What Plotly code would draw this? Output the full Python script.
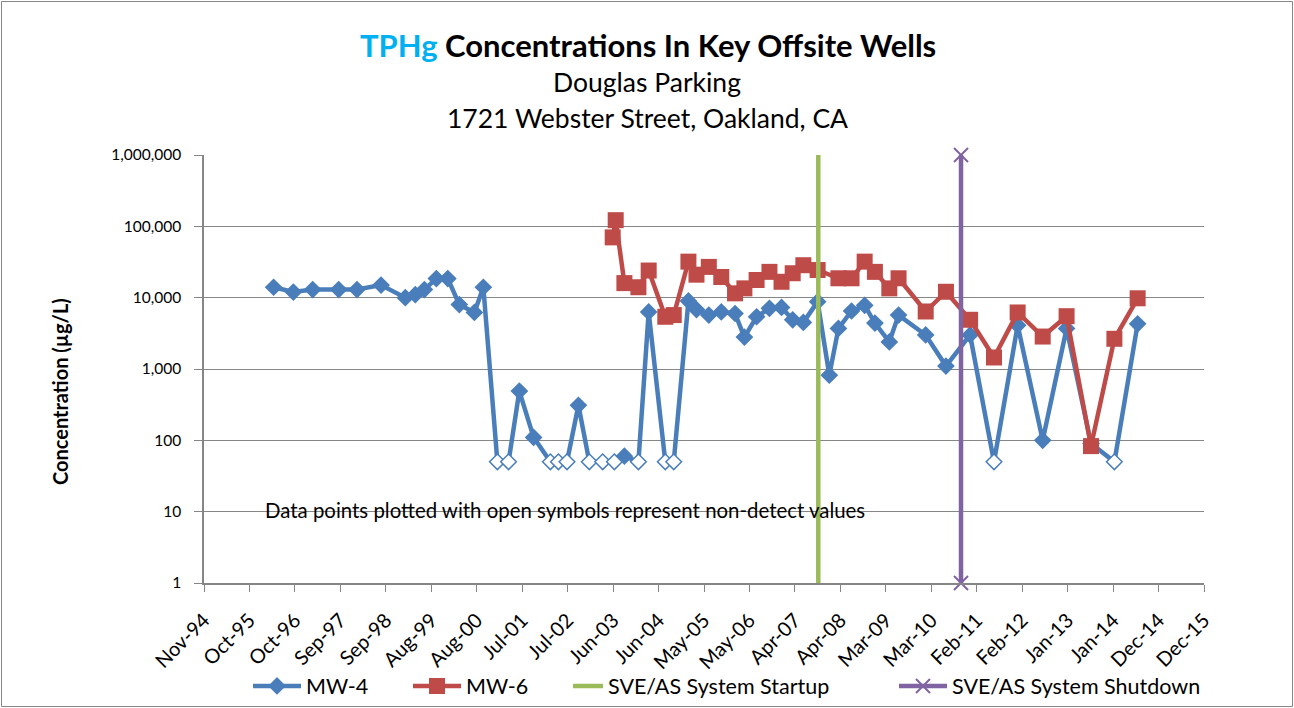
import plotly.graph_objects as go

# ---------------- data ----------------
mw4_dates = ["1996-04-25", "1996-09-24", "1997-02-20", "1997-09-08", "1998-01-27", "1998-07-31",
             "1999-02-03", "1999-04-21", "1999-06-30", "1999-09-30", "1999-12-27", "2000-03-25",
             "2000-07-19", "2000-09-26", "2001-01-12", "2001-04-08", "2001-06-30", "2001-10-18",
             "2002-02-24", "2002-04-27", "2002-07-02", "2002-09-28", "2002-12-21", "2003-04-03",
             "2003-07-02", "2003-09-17", "2004-01-03", "2004-03-22", "2004-07-28", "2004-10-01",
             "2005-01-22", "2005-03-25", "2005-06-28", "2005-10-02", "2006-01-16", "2006-03-29",
             "2006-07-01", "2006-10-08", "2007-01-09", "2007-04-05", "2007-06-26", "2007-10-14",
             "2008-01-12", "2008-03-22", "2008-07-01", "2008-10-10", "2008-12-28", "2009-04-18",
             "2009-06-28", "2010-01-23", "2010-06-28", "2010-12-31", "2011-07-03", "2012-01-01",
             "2012-07-12", "2013-01-12", "2013-07-19", "2014-01-15", "2014-07-13"]
mw4_values = [14000, 12000, 13000, 13000, 13000, 15000,
              10000, 11000, 13000, 18500, 18500, 8000,
              6200, 14000, 50, 50, 490, 110,
              50, 50, 50, 310, 50, 50,
              50, 60, 50, 6300, 50, 50,
              9000, 6800, 5700, 6300, 6000, 2800,
              5400, 7100, 7300, 4900, 4500, 8800,
              820, 3700, 6500, 7800, 4400, 2400,
              5700, 3000, 1100, 3000, 50, 4100,
              100, 3700, 90, 50, 4300]
mw4_nondetect = [0, 0, 0, 0, 0, 0,
                 0, 0, 0, 0, 0, 0,
                 0, 0, 1, 1, 0, 0,
                 1, 1, 1, 0, 1, 1,
                 1, 0, 1, 0, 1, 1,
                 0, 0, 0, 0, 0, 0,
                 0, 0, 0, 0, 0, 0,
                 0, 0, 0, 0, 0, 0,
                 0, 0, 0, 0, 1, 0,
                 0, 0, 0, 1, 0]

mw6_dates = ["2003-06-19", "2003-07-12", "2003-09-17", "2004-01-03", "2004-03-22", "2004-07-28",
             "2004-10-01", "2005-01-22", "2005-03-25", "2005-06-28", "2005-10-02", "2006-01-16",
             "2006-03-29", "2006-07-01", "2006-10-08", "2007-01-09", "2007-04-05", "2007-06-26",
             "2007-10-14", "2008-03-22", "2008-07-01", "2008-10-10", "2008-12-28", "2009-04-18",
             "2009-06-28", "2010-01-23", "2010-06-28", "2010-12-31", "2011-07-03", "2012-01-01",
             "2012-07-12", "2013-01-12", "2013-07-19", "2014-01-15", "2014-07-13"]
mw6_values = [70000, 122000, 16000, 14000, 24000, 5400,
              5700, 32000, 21000, 27000, 19500, 11500,
              13500, 17700, 23000, 16700, 22000, 28500,
              24400, 18700, 18700, 32000, 23000, 13500,
              18700, 6400, 12100, 4900, 1450, 6200,
              2850, 5500, 83, 2650, 9800]

startup_dates = ["2007-10-19", "2007-10-19"]
shutdown_dates = ["2010-10-22", "2010-10-22"]
event_values = [1, 1000000]

x_range = ["1994-11-06", "2015-12-06"]
x_tick_step_days = 350

y_tickvals = [1, 10, 100, 1000, 10000, 100000, 1000000]
y_ticktext = ["1", "10", "100", "1,000", "10,000", "100,000", "1,000,000"]

# ---------------- styles ----------------
BLUE = "#4A7EBB"
RED = "#BE4B48"
GREEN = "#9BBB59"
PURPLE = "#8064A2"
GRID = "#868686"
FONT = "Lato"

W, H = 1294, 708
L, R, T = 204, 90, 155
PLOT_BOTTOM = 583
B = H - PLOT_BOTTOM
PW, PH = W - L - R, H - T - B


def px_x(px):
    return (px - L) / PW


def px_y(py):
    return (PLOT_BOTTOM - py) / PH


fig = go.Figure()

fig.add_trace(go.Scatter(
    x=mw4_dates, y=mw4_values, name="MW-4", mode="lines+markers",
    line=dict(color=BLUE, width=4.5),
    marker=dict(symbol="diamond", size=12,
                color=["white" if nd else BLUE for nd in mw4_nondetect],
                line=dict(color=BLUE, width=1.5)),
    legend="legend"))

fig.add_trace(go.Scatter(
    x=mw6_dates, y=mw6_values, name="MW-6", mode="lines+markers",
    line=dict(color=RED, width=4.5),
    marker=dict(symbol="square", size=16, color=RED),
    legend="legend2"))

fig.add_trace(go.Scatter(
    x=startup_dates, y=event_values, name="SVE/AS System Startup", mode="lines",
    line=dict(color=GREEN, width=4.5),
    legend="legend3"))

fig.add_trace(go.Scatter(
    x=shutdown_dates, y=event_values, name="SVE/AS System Shutdown", mode="lines+markers",
    line=dict(color=PURPLE, width=4.5), cliponaxis=False,
    marker=dict(symbol="x-thin", size=14, line=dict(color=PURPLE, width=2)),
    legend="legend4"))

legend_common = dict(orientation="h", yanchor="middle", xanchor="left",
                     yref="container", y=1 - 686 / H,
                     font=dict(family=FONT, size=21.5, color="black"),
                     bgcolor="rgba(0,0,0,0)", itemwidth=48)

annotations = [
    dict(text="<span style='color:#00B0F0'>TPHg</span> Concentrations In Key Offsite Wells",
         x=px_x(648), y=px_y(45), xref="paper", yref="paper", showarrow=False,
         font=dict(family=FONT, size=31, color="black", weight="bold"),
         xanchor="center", yanchor="middle"),
    dict(text="Douglas Parking", x=px_x(647), y=px_y(82), xref="paper", yref="paper",
         showarrow=False, font=dict(family=FONT, size=26.5, color="black"),
         xanchor="center", yanchor="middle"),
    dict(text="1721 Webster Street, Oakland, CA", x=px_x(647), y=px_y(118), xref="paper",
         yref="paper", showarrow=False, font=dict(family=FONT, size=26.5, color="black"),
         xanchor="center", yanchor="middle"),
    dict(text="Concentration (µg/L)", x=px_x(60), y=px_y(392), xref="paper", yref="paper",
         showarrow=False, textangle=-90,
         font=dict(family=FONT, size=20, color="black", weight="bold"),
         xanchor="center", yanchor="middle"),
    dict(text="Data points plotted with open symbols represent non-detect values",
         x=px_x(263), y=px_y(510), xref="paper", yref="paper", showarrow=False,
         font=dict(family=FONT, size=20.4, color="black"),
         xanchor="left", yanchor="middle"),
]

fig.update_layout(
    width=W, height=H, autosize=False,
    margin=dict(l=L, r=R, t=T, b=B, pad=0),
    paper_bgcolor="white", plot_bgcolor="white",
    font=dict(family=FONT, color="black"),
    showlegend=True,
    legend=dict(legend_common, x=px_x(248)),
    legend2=dict(legend_common, x=px_x(408)),
    legend3=dict(legend_common, x=px_x(568), itemwidth=30),
    legend4=dict(legend_common, x=px_x(894)),
    annotations=annotations,
    shapes=[dict(type="rect", xref="paper", yref="paper",
                 x0=px_x(1.5), x1=px_x(W - 1.5), y0=px_y(H - 1.5), y1=px_y(1.5),
                 line=dict(color=GRID, width=1), layer="below")],
    xaxis=dict(
        type="date", range=x_range,
        tick0=x_range[0], dtick=x_tick_step_days * 86400000, tickformat="%b-%y",
        tickangle=-45, ticks="outside", ticklen=7, tickcolor=GRID, tickwidth=1.3,
        showline=True, linecolor=GRID, linewidth=1.5, showgrid=False, zeroline=False,
        automargin=False, ticklabelstandoff=9,
        tickfont=dict(family=FONT, size=20, color="black"),
    ),
    yaxis=dict(
        type="log", range=[0, 6], tickvals=y_tickvals, ticktext=y_ticktext,
        ticks="outside", ticklen=8, tickcolor=GRID, tickwidth=1.3,
        showline=True, linecolor=GRID, linewidth=1.5, automargin=False,
        ticklabelstandoff=10,
        showgrid=True, gridcolor=GRID, gridwidth=1.3, zeroline=False,
        tickfont=dict(family=FONT, size=15.5, color="black"),
    ),
)

fig.write_html("out.html",
               config={"responsive": False, "displayModeBar": False},
               post_script="document.body.style.margin='0px';")
